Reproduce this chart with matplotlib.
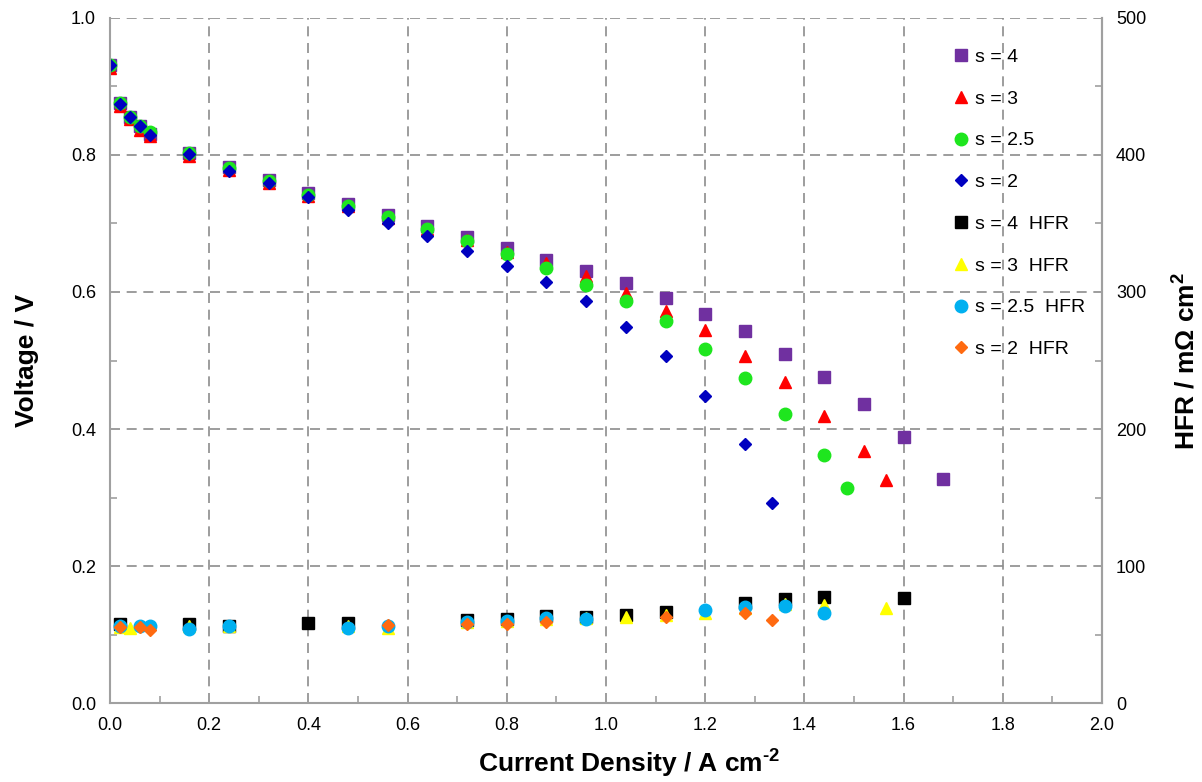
import matplotlib
matplotlib.use("Agg")
import matplotlib.pyplot as plt
from matplotlib.ticker import MultipleLocator

plt.rcParams["font.family"] = ["Liberation Sans", "DejaVu Sans"]
plt.rcParams["mathtext.fontset"] = "custom"
plt.rcParams["mathtext.rm"] = "Liberation Sans"
plt.rcParams["mathtext.bf"] = "Liberation Sans:bold"

# polarization curves (current density A/cm2, cell voltage V)
j_s4 = [0.0, 0.02, 0.04, 0.06, 0.08, 0.16, 0.24, 0.32, 0.40, 0.48, 0.56, 0.64, 0.72,
        0.80, 0.88, 0.96, 1.04, 1.12, 1.20, 1.28, 1.36, 1.44, 1.52, 1.60, 1.68]
v_s4 = [0.931, 0.876, 0.856, 0.842, 0.831, 0.803, 0.782, 0.763, 0.745, 0.729, 0.712, 0.696, 0.680,
        0.664, 0.647, 0.631, 0.613, 0.591, 0.568, 0.543, 0.510, 0.476, 0.436, 0.389, 0.327]

j_s3 = [0.0, 0.02, 0.04, 0.06, 0.08, 0.16, 0.24, 0.32, 0.40, 0.48, 0.56, 0.64, 0.72,
        0.80, 0.88, 0.96, 1.04, 1.12, 1.20, 1.28, 1.36, 1.44, 1.52, 1.565]
v_s3 = [0.927, 0.872, 0.852, 0.837, 0.827, 0.798, 0.778, 0.759, 0.740, 0.725, 0.708, 0.692, 0.676,
        0.658, 0.642, 0.623, 0.598, 0.572, 0.544, 0.507, 0.468, 0.419, 0.368, 0.325]

j_s25 = [0.0, 0.02, 0.04, 0.06, 0.08, 0.16, 0.24, 0.32, 0.40, 0.48, 0.56, 0.64, 0.72,
         0.80, 0.88, 0.96, 1.04, 1.12, 1.20, 1.28, 1.36, 1.44, 1.485]
v_s25 = [0.931, 0.876, 0.856, 0.843, 0.833, 0.803, 0.781, 0.762, 0.742, 0.726, 0.710, 0.692, 0.675,
         0.655, 0.635, 0.610, 0.587, 0.557, 0.517, 0.474, 0.422, 0.362, 0.314]

j_s2 = [0.0, 0.02, 0.04, 0.06, 0.08, 0.16, 0.24, 0.32, 0.40, 0.48, 0.56, 0.64, 0.72,
        0.80, 0.88, 0.96, 1.04, 1.12, 1.20, 1.28, 1.335]
v_s2 = [0.931, 0.875, 0.855, 0.842, 0.829, 0.801, 0.777, 0.759, 0.738, 0.720, 0.700, 0.682, 0.660,
        0.638, 0.615, 0.587, 0.549, 0.506, 0.448, 0.378, 0.292]

# high frequency resistance (mOhm cm2)
j_s4_hfr = [0.02, 0.16, 0.24, 0.40, 0.48, 0.72, 0.80, 0.88, 0.96, 1.04, 1.12, 1.28, 1.36, 1.44, 1.60]
r_s4_hfr = [57.5, 57.7, 56.5, 58.6, 58.4, 60.5, 61.5, 63.5, 63.0, 64.5, 66.7, 72.7, 75.7, 77.2, 77.0]

j_s3_hfr = [0.02, 0.04, 0.16, 0.24, 0.48, 0.56, 0.72, 0.80, 0.88, 0.96, 1.04, 1.12, 1.20, 1.28, 1.36, 1.44, 1.565]
r_s3_hfr = [55.5, 55.0, 56.5, 56.0, 56.0, 55.0, 59.0, 59.5, 61.0, 62.0, 63.0, 64.5, 66.0, 69.0, 72.0, 71.5, 69.0]

j_s25_hfr = [0.02, 0.06, 0.08, 0.16, 0.24, 0.48, 0.56, 0.72, 0.80, 0.88, 0.96, 1.20, 1.28, 1.36, 1.44]
r_s25_hfr = [56.0, 56.0, 56.5, 54.0, 56.0, 54.5, 56.0, 59.4, 60.0, 62.0, 61.3, 68.0, 70.0, 70.5, 66.0]

j_s2_hfr = [0.02, 0.06, 0.08, 0.56, 0.72, 0.80, 0.88, 1.12, 1.28, 1.335]
r_s2_hfr = [55.5, 55.7, 53.0, 57.0, 58.0, 58.0, 59.3, 62.5, 65.5, 60.6]

fig = plt.figure(figsize=(12.02, 7.82), dpi=100)
ax = fig.add_axes([0.0915, 0.101, 0.8253, 0.876])
ax2 = ax.twinx()

ax.plot(j_s4, v_s4, "s", color="#7030A0", ms=8.5, label="s = 4")
ax.plot(j_s3, v_s3, "^", color="#FF0000", ms=9, label="s = 3")
ax.plot(j_s25, v_s25, "o", color="#1EE61E", ms=9, label="s = 2.5")
ax.plot(j_s2, v_s2, "D", color="#0000C0", ms=6.5, label="s = 2")

ax2.plot(j_s4_hfr, r_s4_hfr, "s", color="#000000", ms=8.5, label="s = 4  HFR")
ax2.plot(j_s3_hfr, r_s3_hfr, "^", color="#FFFF00", ms=9, label="s = 3  HFR")
ax2.plot(j_s25_hfr, r_s25_hfr, "o", color="#00B0F0", ms=9, label="s = 2.5  HFR")
ax2.plot(j_s2_hfr, r_s2_hfr, "D", color="#FF6A10", ms=6.5, label="s = 2  HFR")

ax.set_xlim(0, 2.0)
ax.set_ylim(0, 1.0)
ax2.set_ylim(0, 500)

ax.xaxis.set_major_locator(MultipleLocator(0.2))
ax.xaxis.set_minor_locator(MultipleLocator(0.1))
ax.yaxis.set_major_locator(MultipleLocator(0.2))
ax.yaxis.set_minor_locator(MultipleLocator(0.1))
ax2.yaxis.set_major_locator(MultipleLocator(100))
ax2.yaxis.set_minor_locator(MultipleLocator(50))
ax.xaxis.set_major_formatter(lambda v, p: f"{v:.1f}")
ax.yaxis.set_major_formatter(lambda v, p: f"{v:.1f}")

ax.grid(True, which="major", color="#8c8c8c", linestyle=(0, (6, 4)), linewidth=1.2)
ax.set_axisbelow(True)

for a in (ax, ax2):
    for side in ("left", "right", "bottom"):
        a.spines[side].set_color("#a0a0a0")
        a.spines[side].set_linewidth(1.5)
    a.spines["top"].set_visible(False)
    a.tick_params(which="major", length=0, labelsize=13, pad=10)
    a.tick_params(which="minor", direction="in", length=5, color="#a0a0a0", width=1.2)
ax2.spines["left"].set_visible(False)
ax2.spines["bottom"].set_visible(False)

ax.set_xlabel("Current Density / A cm$^{\\mathbf{\u2010}\\mathbf{2}}$", fontsize=19,
              fontweight="bold", labelpad=9, x=0.523)
ax.set_ylabel("Voltage / V", fontsize=19, fontweight="bold", labelpad=23)
ax2.set_ylabel("HFR / m\u03a9 cm$^{\\mathbf{2}}$", fontsize=19, fontweight="bold", labelpad=18)

h1, l1 = ax.get_legend_handles_labels()
h2, l2 = ax2.get_legend_handles_labels()
ax2.legend(h1 + h2, l1 + l2, loc="upper left", bbox_to_anchor=(0.844, 0.967),
           frameon=False, fontsize=14, handlelength=0.6, handletextpad=0.42,
           labelspacing=1.24, borderaxespad=0)

fig.savefig("out.png", dpi=100)
